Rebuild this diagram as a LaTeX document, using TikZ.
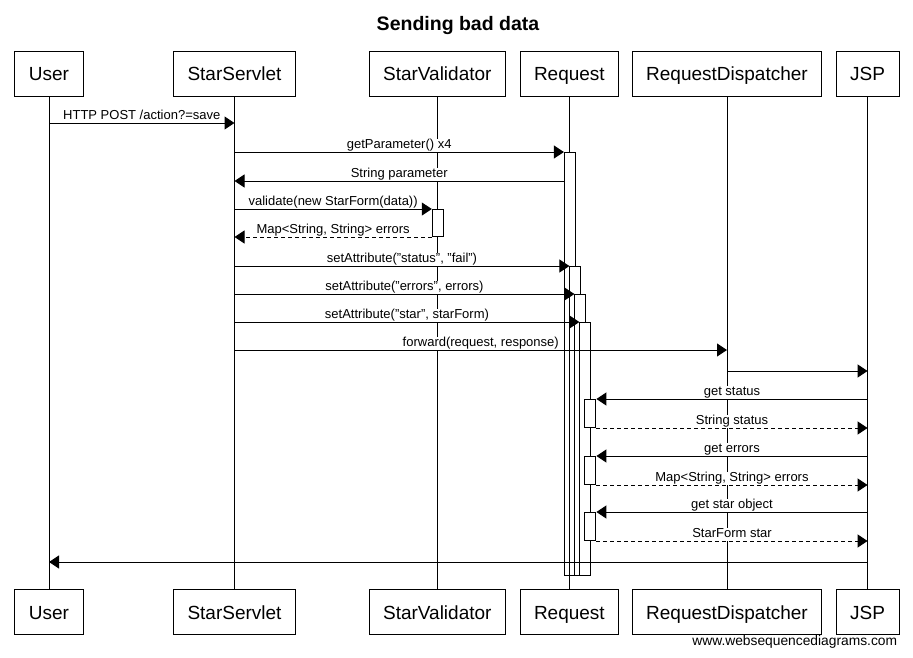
\documentclass[tikz,border=0pt]{standalone}
\usepackage{fontspec}
\setmainfont{Liberation Sans}
\usetikzlibrary{arrows.meta}
\newcommand\sqmsg[4]{%
  \path (#2) -- (#3) node[midway,lbl]{#4};
  \draw[#1] (#2) -- (#3);}
\begin{document}
\begin{tikzpicture}[x=1pt,y=-1pt,line width=1pt,
  part/.style={draw,fill=white,font=\fontsize{19}{22}\selectfont,minimum height=45pt,
    inner xsep=14pt,text height=16pt,text depth=2pt},
  act/.style={draw,fill=white,minimum width=11pt,inner sep=0pt,anchor=north west},
  msg/.style={-{Triangle[length=10pt,width=13pt]}},
  ret/.style={msg,dash pattern=on 4pt off 3pt},
  lbl/.style={anchor=base,yshift=3.5pt,fill=white,inner xsep=1pt,inner ysep=0.5pt,
    text height=9.5pt,text depth=3pt,font=\fontsize{13}{15}\selectfont}]
\useasboundingbox (0,0) rectangle (913,657);
% title and footer
\node[anchor=base,font=\bfseries\fontsize{19.5}{22}\selectfont] (title) at (458,30.5) {Sending bad data};
\node[anchor=base east,font=\fontsize{13.8}{16}\selectfont] (wm) at (901,645) {www.websequencediagrams.com};
% participants
\node[part] (uT) at (49,73.5) {User};
\node[part] (sT) at (234.5,73.5) {StarServlet};
\node[part] (vT) at (437.3,73.5) {StarValidator};
\node[part] (rT) at (569.4,73.5) {Request};
\node[part] (dT) at (727,73.5) {RequestDispatcher};
\node[part] (jT) at (867.6,73.5) {JSP};
\node[part] (uB) at (49,612) {User};
\node[part] (sB) at (234.5,612) {StarServlet};
\node[part] (vB) at (437.3,612) {StarValidator};
\node[part] (rB) at (569.4,612) {Request};
\node[part] (dB) at (727,612) {RequestDispatcher};
\node[part] (jB) at (867.6,612) {JSP};
% lifelines
\foreach \p in {u,s,v,r,d,j} \draw (\p T) -- (\p B);
% activations
\node[act,minimum height=423pt] (a1) at (563.9,152) {};
\node[act,minimum height=309pt] (a2) at (569.4,266) {};
\node[act,minimum height=281pt] (a3) at (574.4,294) {};
\node[act,minimum height=253pt] (a4) at (579.4,322) {};
\node[act,minimum height=27pt] (v1) at (431.8,209) {};
\node[act,minimum height=28pt] (b1) at (584.4,399) {};
\node[act,minimum height=28pt] (b2) at (584.4,456) {};
\node[act,minimum height=28pt] (b3) at (584.4,512) {};
% messages
\sqmsg{msg}{uT |- 0,123}{sT |- 0,123}{HTTP POST /action?=save}
\sqmsg{msg}{sT |- 0,152}{a1.north west}{getParameter() x4}
\sqmsg{msg}{a1.west |- 0,181}{sT |- 0,181}{String parameter}
\sqmsg{msg}{sT |- 0,209}{v1.north west}{validate(new StarForm(data))}
\sqmsg{ret}{v1.south west}{sT |- v1.south west}{Map<String, String> errors}
\sqmsg{msg}{sT |- 0,266}{a2.north west}{setAttribute("status", "fail")}
\sqmsg{msg}{sT |- 0,294}{a3.north west}{setAttribute("errors", errors)}
\sqmsg{msg}{sT |- 0,322}{a4.north west}{setAttribute("star", starForm)}
\sqmsg{msg}{sT |- 0,350}{dT |- 0,350}{forward(request, response)}
\draw[msg] (dT |- 0,371) -- (jT |- 0,371);
\sqmsg{msg}{jT |- b1.north east}{b1.north east}{get status}
\sqmsg{ret}{b1.south east}{jT |- b1.south east}{String status}
\sqmsg{msg}{jT |- b2.north east}{b2.north east}{get errors}
\sqmsg{ret}{b2.south east}{jT |- b2.south east}{Map<String, String> errors}
\sqmsg{msg}{jT |- b3.north east}{b3.north east}{get star object}
\sqmsg{ret}{b3.south east}{jT |- b3.south east}{StarForm star}
\draw[msg] (jT |- 0,562) -- (uT |- 0,562);
\end{tikzpicture}
\end{document}
